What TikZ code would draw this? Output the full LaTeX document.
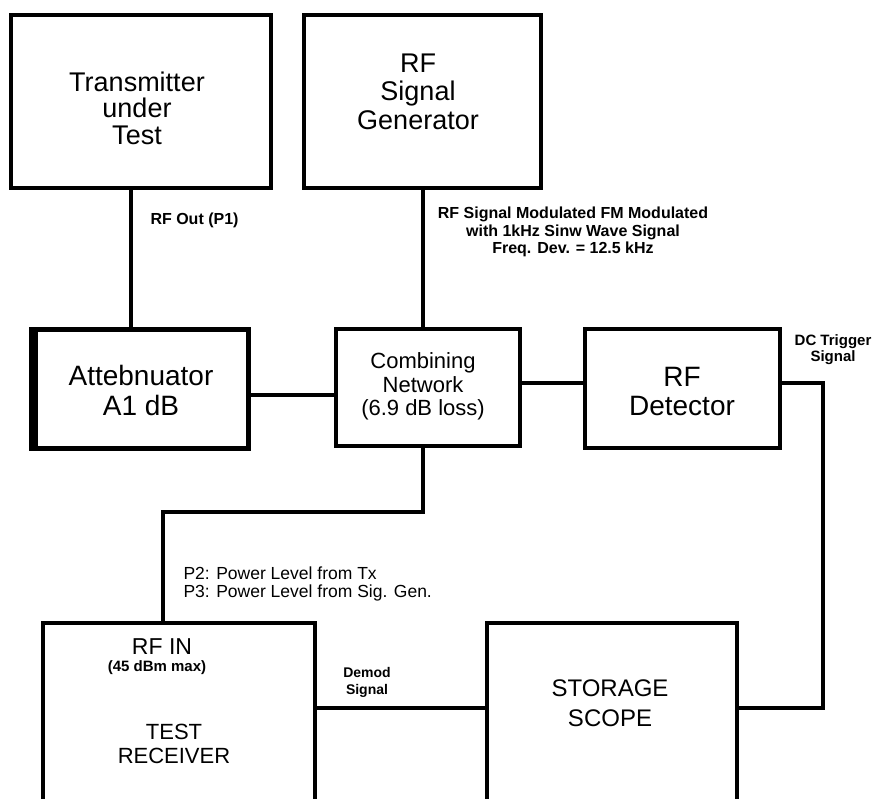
\documentclass[tikz,border=0pt]{standalone}
\usepackage{fontspec}
\setmainfont{Liberation Sans}
\usetikzlibrary{positioning}
\tikzset{
    blockbox/.style={
        draw,
        line width=4pt,
        inner sep=0pt
    },
    % connecting lines between the blocks
    wire/.style={
        line width=4pt,
        line join=miter
    },
    bigtext/.style={
        align=center,
        font=\fontsize{27}{26.5}\selectfont
    },
    smalltext/.style={
        align=center,
        font=\bfseries\fontsize{16}{17.5}\selectfont
    }
}

\begin{document}
\begin{tikzpicture}[x=1pt, y=-1pt]
   \useasboundingbox (0,0) rectangle (875,799);
   \clip (0,0) rectangle (875,799);
   % blocks
   \node[blockbox, minimum width=260pt, minimum height=173pt] (tx) at (141,101.5) {};
   \node[blockbox, minimum width=237pt, minimum height=173pt] (gen) at (422.5,101.5) {};
   \node[blockbox, line width=5pt, minimum width=213pt, minimum height=118pt] (att) at (141.5,389) {};
   \draw[line width=7pt] (att.north west) -- (att.south west);
   \node[blockbox, minimum width=184pt, minimum height=117pt] (comb) at (428,387.5) {};
   \node[blockbox, minimum width=195pt, minimum height=119pt] (det) at (682.5,388.5) {};
   \node[blockbox, minimum width=272pt, minimum height=200pt] (rx) at (179,722.5) {};
   \node[blockbox, minimum width=250pt, minimum height=200pt] (scope) at (612,722.5) {};
   % block texts
   \node[bigtext] (txlbl) at (137,108) {Transmitter\\under\\Test};
   \node[bigtext, font=\fontsize{27}{28.5}\selectfont] (genlbl) at (418,91.5) {RF\\Signal\\Generator};
   \node[bigtext, font=\fontsize{28}{30}\selectfont] (attlbl) at (141,390) {Attebnuator\\A1 dB};
   \node[bigtext, font=\fontsize{22}{23.5}\selectfont] (comblbl) at (423,386.5) {Combining\\Network\\(6.9 dB loss)};
   \node[bigtext, font=\fontsize{28}{29}\selectfont] (detlbl) at (682,391.5) {RF\\Detector};
   \node[font=\fontsize{23}{23}\selectfont] (rxin) at (162,647) {RF IN};
   \node[font=\bfseries\fontsize{15}{15}\selectfont] (rxmax) at (157,668) {(45 dBm max)};
   \node[bigtext, font=\fontsize{22}{23.5}\selectfont] (rxname) at (174,744) {TEST\\RECEIVER};
   \node[bigtext, font=\fontsize{24}{30}\selectfont] (scopelbl) at (610,703) {STORAGE\\SCOPE};
   % connectors
   \coordinate (txout) at ([xshift=-10pt]tx.south);
   \draw[wire] (txout) -- (txout |- att.north);
   \draw[wire] (gen.south) -- (gen.south |- comb.north);
   \coordinate (attout) at ([yshift=-6pt]att.east);
   \draw[wire] (attout) -- (attout -| comb.west);
   \coordinate (combout) at ([yshift=4.5pt]comb.east);
   \draw[wire] (combout) -- (combout -| det.west);
   \coordinate (detout) at ([yshift=5.5pt]det.east);
   \coordinate (trgcorner) at (823,708);
   \draw[wire] (detout) -| (trgcorner) -- (trgcorner -| scope.east);
   \coordinate (rxbend) at (163,512);
   \draw[wire] (gen.south |- comb.south) |- (rxbend) -- (rxbend |- rx.north);
   \coordinate (dmd) at (400,708);
   \draw[wire] (dmd -| rx.east) -- (dmd -| scope.west);
   % signal labels
   \node[smalltext, anchor=west] (p1lbl) at (147,220) {RF Out (P1)};
   \node[smalltext] (modlbl) at (573,232) {RF Signal Modulated FM Modulated\\with 1kHz Sinw Wave Signal\\Freq. Dev. = 12.5 kHz};
   \node[smalltext, font=\bfseries\fontsize{15}{15.5}\selectfont] (trglbl) at (833,349.5) {DC Trigger\\Signal};
   \node[align=left, anchor=west, font=\fontsize{17.5}{18}\selectfont] (pwrlbl) at (180,584) {P2: Power Level from Tx\\P3: Power Level from Sig. Gen.};
   \node[smalltext, font=\bfseries\fontsize{14}{17}\selectfont] (dmdlbl) at (367,682.5) {Demod\\Signal};
\end{tikzpicture}
\end{document}
